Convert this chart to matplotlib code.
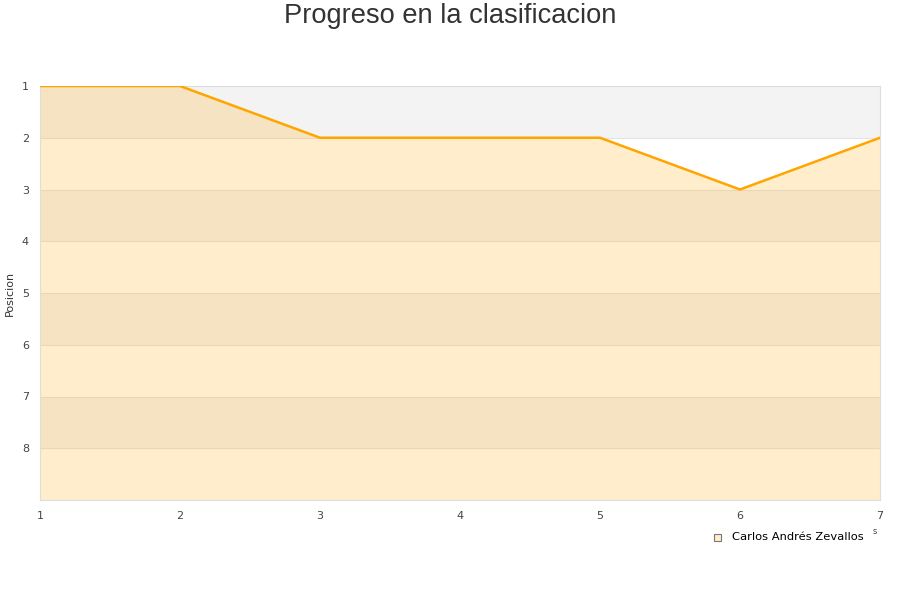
import numpy as np
import matplotlib.pyplot as plt
from matplotlib.patches import Rectangle

jornadas = [1, 2, 3, 4, 5, 6, 7]
posicion = [1, 1, 2, 2, 2, 3, 2]
jugador = 'Carlos Andrés Zevallos'
y_ticks = [1, 2, 3, 4, 5, 6, 7, 8]

fig = plt.figure(figsize=(9, 6), dpi=100)
ax = fig.add_axes([40 / 900, 1 - 500 / 600, 840 / 900, 414 / 600])

# alternating bands
for lo in range(1, 9, 2):
    ax.axhspan(lo, lo + 1, color='#f3f3f3', lw=0, zorder=0)
for t in y_ticks[1:]:
    ax.axhline(t, color='#e4e4e4', lw=0.8, zorder=1)

ax.fill_between(jornadas, posicion, 9, color='#ffa500', alpha=0.2, lw=0, zorder=2)
ax.plot(jornadas, posicion, color='#ffa500', lw=1.8, zorder=3)

ax.set_xlim(1, 7)
ax.set_ylim(9, 1)
ax.set_xticks(jornadas)
ax.set_yticks(y_ticks)
ax.tick_params(length=0, labelsize=8, colors='#444444', pad=8)
for s in ax.spines.values():
    s.set_color('#dddddd')

fig.text(10 / 900, 1 - 293 / 600, 'Posicion', rotation=90, fontsize=8,
         color='#333333', ha='center', va='center')
fig.text(0.5, 1 - 16 / 600, 'Progreso en la clasificacion', fontsize=19.6,
         family='Liberation Sans', color='#333333', ha='center', va='center')

# legend
fig.patches.append(Rectangle((714 / 900, 1 - 541 / 600), 7 / 900, 7 / 600,
                             transform=fig.transFigure, facecolor='#ffedcc',
                             edgecolor='#777777', lw=0.8))
fig.text(732 / 900, 1 - 537 / 600, jugador, fontsize=8.25, color='#000000',
         va='center', ha='left')
fig.text(875 / 900, 1 - 531 / 600, 's', fontsize=6, color='#444444',
         ha='center', va='center')

fig.savefig('out.png', dpi=100)
